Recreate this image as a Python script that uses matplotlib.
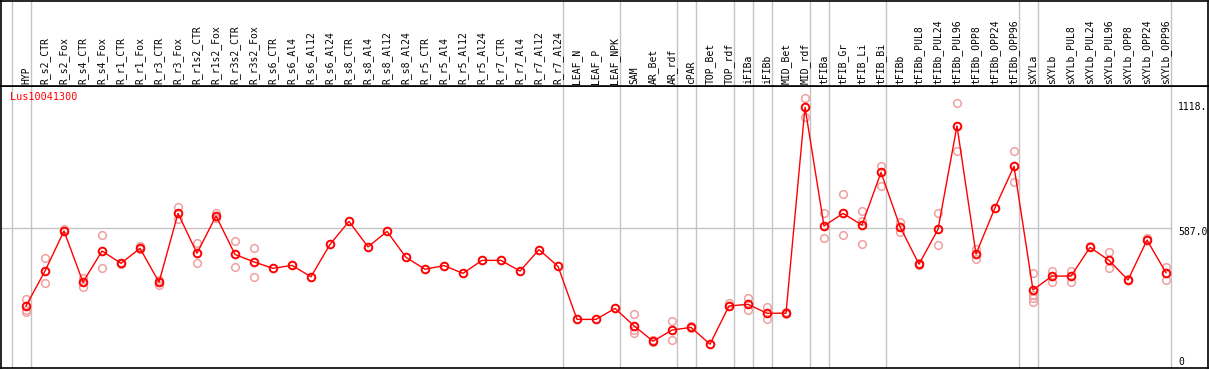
import matplotlib
matplotlib.use('Agg')
import matplotlib.pyplot as plt
import numpy as np

gene = 'Lus10041300'

samples = ['HYP', 'R_s2_CTR', 'R_s2_Fox', 'R_s4_CTR', 'R_s4_Fox', 'R_r1_CTR', 'R_r1_Fox',
           'R_r3_CTR', 'R_r3_Fox', 'R_r1s2_CTR', 'R_r1s2_Fox', 'R_r3s2_CTR', 'R_r3s2_Fox',
           'R_s6_CTR', 'R_s6_Al4', 'R_s6_Al12', 'R_s6_Al24', 'R_s8_CTR', 'R_s8_Al4',
           'R_s8_Al12', 'R_s8_Al24', 'R_r5_CTR', 'R_r5_Al4', 'R_r5_Al12', 'R_r5_Al24',
           'R_r7_CTR', 'R_r7_Al4', 'R_r7_Al12', 'R_r7_Al24', 'LEAF_N', 'LEAF_P', 'LEAF_NPK',
           'SAM', 'AR_Bet', 'AR_rdf', 'cPAR', 'TOP_Bet', 'TOP_rdf', 'iFIBa', 'iFIBb',
           'MID_Bet', 'MID_rdf', 'tFIBa', 'tFIB_Gr', 'tFIB_Li', 'tFIB_Bi', 'tFIBb',
           'tFIBb_PUL8', 'tFIBb_PUL24', 'tFIBb_PUL96', 'tFIBb_OPP8', 'tFIBb_OPP24',
           'tFIBb_OPP96', 'sXYLa', 'sXYLb', 'sXYLb_PUL8', 'sXYLb_PUL24', 'sXYLb_PUL96',
           'sXYLb_OPP8', 'sXYLb_OPP24', 'sXYLb_OPP96']

# mittelwerte
means = [246, 399, 575, 350, 487, 433, 499, 350, 652, 477, 641, 472, 439,
         411, 424, 374, 516, 617, 505, 573, 459, 407, 423, 389, 446, 446, 399, 493, 420,
         187, 187, 235,
         159, 91, 140, 152, 78, 246, 253, 214, 214, 1118,
         597, 652, 601, 832, 594, 429, 582, 1036, 474, 677, 859,
         316, 377, 377, 503, 446, 360, 535, 392]

# einzelne replikate
replicates = [[276, 228, 218], [455, 345], [583, 575], [370, 328], [557, 411], [436, 430],
              [508, 494], [358, 340], [681, 627], [521, 433], [653, 630], [531, 416],
              [499, 374],
              [], [], [], [], [], [], [], [], [], [], [], [], [], [], [], [],
              [], [], [],
              [209, 126, 140], [95, 88], [179, 95], [160, 150], [], [258, 246], [279, 228],
              [240, 190], [220, 210], [1157, 1074],
              [652, 543], [736, 557], [663, 619, 518], [860, 774], [615, 570], [435, 425],
              [652, 513], [1138, 928], [495, 450], [], [928, 788],
              [392, 294, 279, 265], [401, 352], [401, 352], [508], [481, 411], [365],
              [545, 540], [416, 360]]

# Gruppengrenzen (letzter Index jeder Gruppe)
group_ends = [-1, 0, 28, 31, 34, 35, 37, 38, 39, 41, 42, 45, 52, 53, 60]

W, H = 1209, 370
fig = plt.figure(figsize=(W / 100, H / 100), dpi=100)

x = np.arange(len(samples))
# x-Achse so, dass index 0 bei px 26 liegt, Abstand 19 px
x0 = (1 - 26) / 19
x1 = (1208 - 26) / 19
v_top = (362 - 86) / 0.2279
v_bot = (362 - 368) / 0.2279

ax = fig.add_axes([1 / W, 2 / H, 1207 / W, 282 / H])
head = fig.add_axes([1 / W, 284 / H, 1207 / W, 85.5 / H])

for a in (ax, head):
    a.set_xlim(x0, x1)
    a.set_xticks([])
    a.set_yticks([])
    for s in a.spines.values():
        s.set_color('black')
        s.set_linewidth(1.2)
    for g in group_ends:
        a.axvline(g + 0.25, color='#c4c4c4', lw=1, zorder=0)

ax.set_ylim(v_bot, v_top)
head.set_ylim(0, 86)

# graue Linie bei 587 bis zum Ende der Proben
ax.plot([x0, 60.25], [587, 587], color='#c4c4c4', lw=1, zorder=0)

# Replikate
for i, reps in enumerate(replicates):
    if reps:
        ax.plot([i] * len(reps), reps, 'o', ms=5.5, mfc='none', mec='#f0a0a0', mew=1.1, zorder=2)

ax.plot(x, means, '-', color='red', lw=1, zorder=3)
ax.plot(x, means, 'o', ms=5.5, mfc='none', mec='red', mew=1.4, zorder=4)

# y-Beschriftung rechts
ax.text(62.21 - 1.58, 1118, '1118.', family='DejaVu Sans Mono', fontsize=7, va='center', ha='left')
ax.text(62.21 - 1.58, 587 - 15, '587.0', family='DejaVu Sans Mono', fontsize=7, va='center', ha='left',
        clip_on=True)
ax.text(62.21 - 1.58, 0, '0', family='DejaVu Sans Mono', fontsize=7, va='center', ha='left')

ax.text(x0 + 9 / 19, (362 - 97) / 0.2279, gene, color='red', family='DejaVu Sans Mono',
        fontsize=7.3, va='center', ha='left')

# Probennamen im Kopf
for i, name in enumerate(samples):
    head.text(i, 2.5, name, rotation=90, ha='center', va='bottom', family='DejaVu Sans Mono',
              fontsize=7)

fig.savefig('out.png', dpi=100)
